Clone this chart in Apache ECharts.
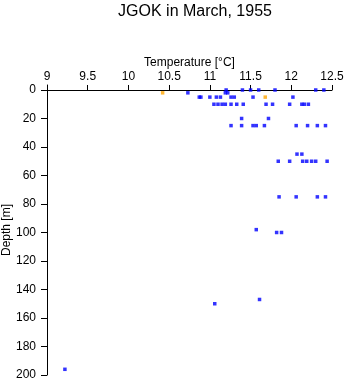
<!DOCTYPE html>
<html><head><meta charset="utf-8">
<script src="https://cdn.jsdelivr.net/npm/echarts@6/dist/echarts.min.js"></script>
<style>html,body{margin:0;padding:0;background:#fff}#c{width:346px;height:384px}</style>
</head><body><div id="c"></div>
<script>
const titleText = 'JGOK in March, 1955';
const xName = 'Temperature [°C]';
const yName = 'Depth [m]';
const depthTicks = [0, 20, 40, 60, 80, 100, 120, 140, 160, 180, 200];

const blueTemp = [
  11.20, 11.40, 11.50, 11.60, 11.80, 12.30, 12.40,
  10.73, 11.19, 11.22,
  10.87, 10.89, 11.00, 11.08, 11.13, 11.26, 11.30, 11.53, 12.02,
  11.05, 11.10, 11.15, 11.19, 11.26, 11.33, 11.41, 11.69, 11.77, 11.98, 12.13, 12.16, 12.21,
  11.39, 11.72,
  11.26, 11.39, 11.53, 11.57, 11.67, 12.06, 12.20, 12.32, 12.42,
  12.07, 12.13,
  11.84, 11.98, 12.14, 12.19, 12.25, 12.30, 12.44,
  11.85, 12.06, 12.32, 12.42,
  11.57,
  11.82, 11.88,
  11.61,
  11.06,
  9.22
];
const blueDepth = [
  0, 0, 0, 0, 0, 0, 0,
  2, 2, 2,
  5, 5, 5, 5, 5, 5, 5, 5, 5,
  10, 10, 10, 10, 10, 10, 10, 10, 10, 10, 10, 10, 10,
  20, 20,
  25, 25, 25, 25, 25, 25, 25, 25, 25,
  45, 45,
  50, 50, 50, 50, 50, 50, 50,
  75, 75, 75, 75,
  98,
  100, 100,
  147,
  150,
  196
];
const orangeTemp = [10.42, 11.68];
const orangeDepth = [2, 5];

const pair = (a, b) => a.map((v, i) => [v, b[i]]);
const font = 'Liberation Sans, Arial, sans-serif';

const chart = echarts.init(document.getElementById('c'), null, {renderer: 'canvas'});
chart.setOption({
  animation: false,
  backgroundColor: '#fff',
  title: {
    text: titleText, left: 190, top: -1, textAlign: 'center',
    textStyle: {fontFamily: font, fontSize: 16, fontWeight: 'normal', color: '#000'}
  },
  grid: {left: 47, right: 14, top: 85, bottom: 9, containLabel: false, outerBoundsMode: 'none'},
  xAxis: {
    type: 'value', position: 'top', min: 9, max: 12.5, interval: 0.5,
    name: xName, nameLocation: 'middle', nameGap: 16, nameMoveOverlap: false,
    nameTextStyle: {fontFamily: font, fontSize: 12, color: '#000'},
    axisLine: {onZero: true, lineStyle: {color: '#000', width: 1}},
    axisTick: {show: true, inside: false, length: 5, lineStyle: {color: '#000'}},
    axisLabel: {fontFamily: font, fontSize: 12, color: '#000', margin: 2},
    splitLine: {show: false}
  },
  yAxis: {
    type: 'value', inverse: true, min: -3.5, max: 200,
    name: yName, nameLocation: 'middle', nameGap: 34, nameRotate: 90, nameMoveOverlap: false,
    nameTextStyle: {fontFamily: font, fontSize: 12, color: '#000'},
    axisLine: {show: true, onZero: false, lineStyle: {color: '#000', width: 1}},
    axisTick: {show: true, length: 6, customValues: depthTicks, lineStyle: {color: '#000'}},
    axisLabel: {fontFamily: font, fontSize: 12, color: '#000', margin: 11, customValues: depthTicks},
    splitLine: {show: false}
  },
  series: [
    {type: 'scatter', data: pair(blueTemp, blueDepth), symbol: 'rect', symbolSize: 3.5,
     itemStyle: {color: '#0000ff'}},
    {type: 'scatter', data: pair(orangeTemp, orangeDepth), symbol: 'rect', symbolSize: 3.5,
     itemStyle: {color: '#ffa500'}}
  ]
});
</script></body></html>
